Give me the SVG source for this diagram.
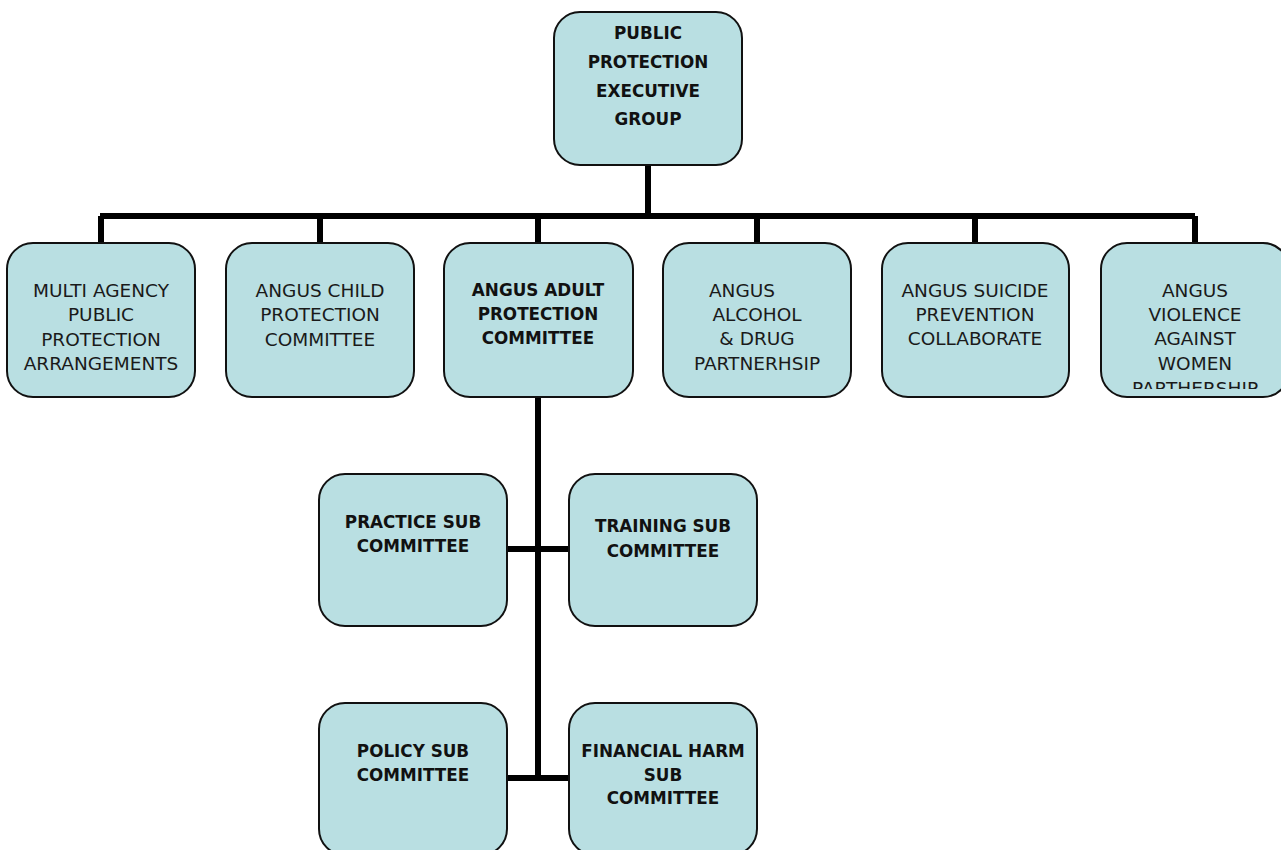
<svg xmlns="http://www.w3.org/2000/svg" width="1281" height="850" viewBox="0 0 1281 850">
<style>
.box{fill:#b9dfe2;stroke:#111;stroke-width:2}
.conn{stroke:#000;stroke-width:6;fill:none}
.r{font-family:"DejaVu Sans",sans-serif;font-size:18.5px;fill:#1a1a1a;text-anchor:middle}
.b{font-family:"DejaVu Sans",sans-serif;font-size:16.8px;font-weight:bold;fill:#111;text-anchor:middle}
</style>
<defs>
<clipPath id="clip6"><rect x="1100" y="240" width="200" height="149"/></clipPath>
</defs>
<rect width="1281" height="850" fill="#fff"/>
<g id="connectors">
<path class="conn" d="M648 165V216M100 216H1195M101 216V243M320 216V243M538 216V243M757 216V243M975 216V243M1195 216V243"/>
<path class="conn" d="M538 397V778M507 549H569M507 778H569"/>
</g>
<g id="n-ppeg">
<rect class="box" x="554" y="12" width="188" height="153" rx="26"/>
<text class="b" x="648" y="39">PUBLIC</text>
<text class="b" x="648" y="68">PROTECTION</text>
<text class="b" x="648" y="97">EXECUTIVE</text>
<text class="b" x="648" y="125">GROUP</text>
</g>
<g id="n-mappa">
<rect class="box" x="7" y="243" width="188" height="154" rx="26"/>
<text class="r" x="101" y="297">MULTI AGENCY</text>
<text class="r" x="101" y="321">PUBLIC</text>
<text class="r" x="101" y="346">PROTECTION</text>
<text class="r" x="101" y="370">ARRANGEMENTS</text>
</g>
<g id="n-child">
<rect class="box" x="226" y="243" width="188" height="154" rx="26"/>
<text class="r" x="320" y="297">ANGUS CHILD</text>
<text class="r" x="320" y="321">PROTECTION</text>
<text class="r" x="320" y="346">COMMITTEE</text>
</g>
<g id="n-adult">
<rect class="box" x="444" y="243" width="189" height="154" rx="26"/>
<text class="b" x="538" y="296">ANGUS ADULT</text>
<text class="b" x="538" y="320">PROTECTION</text>
<text class="b" x="538" y="344">COMMITTEE</text>
</g>
<g id="n-adp">
<rect class="box" x="663" y="243" width="188" height="154" rx="26"/>
<text class="r" x="742" y="297">ANGUS</text>
<text class="r" x="757" y="321">ALCOHOL</text>
<text class="r" x="757" y="345">&amp; DRUG</text>
<text class="r" x="757" y="370">PARTNERHSIP</text>
</g>
<g id="n-suicide">
<rect class="box" x="882" y="243" width="187" height="154" rx="26"/>
<text class="r" x="975" y="297">ANGUS SUICIDE</text>
<text class="r" x="975" y="321">PREVENTION</text>
<text class="r" x="975" y="345">COLLABORATE</text>
</g>
<g id="n-vaw">
<rect class="box" x="1101" y="243" width="188" height="154" rx="26"/>
<g clip-path="url(#clip6)">
<text class="r" x="1195" y="297">ANGUS</text>
<text class="r" x="1195" y="321">VIOLENCE</text>
<text class="r" x="1195" y="345">AGAINST</text>
<text class="r" x="1195" y="370">WOMEN</text>
<text class="r" x="1195" y="395">PARTHERSHIP</text>
</g>
</g>
<g id="n-practice">
<rect class="box" x="319" y="474" width="188" height="152" rx="26"/>
<text class="b" x="413" y="528">PRACTICE SUB</text>
<text class="b" x="413" y="552">COMMITTEE</text>
</g>
<g id="n-training">
<rect class="box" x="569" y="474" width="188" height="152" rx="26"/>
<text class="b" x="663" y="532">TRAINING SUB</text>
<text class="b" x="663" y="557">COMMITTEE</text>
</g>
<g id="n-policy">
<rect class="box" x="319" y="703" width="188" height="152" rx="26"/>
<text class="b" x="413" y="757">POLICY SUB</text>
<text class="b" x="413" y="781">COMMITTEE</text>
</g>
<g id="n-financial">
<rect class="box" x="569" y="703" width="188" height="152" rx="26"/>
<text class="b" x="663" y="757">FINANCIAL HARM</text>
<text class="b" x="663" y="781">SUB</text>
<text class="b" x="663" y="804">COMMITTEE</text>
</g>
</svg>
